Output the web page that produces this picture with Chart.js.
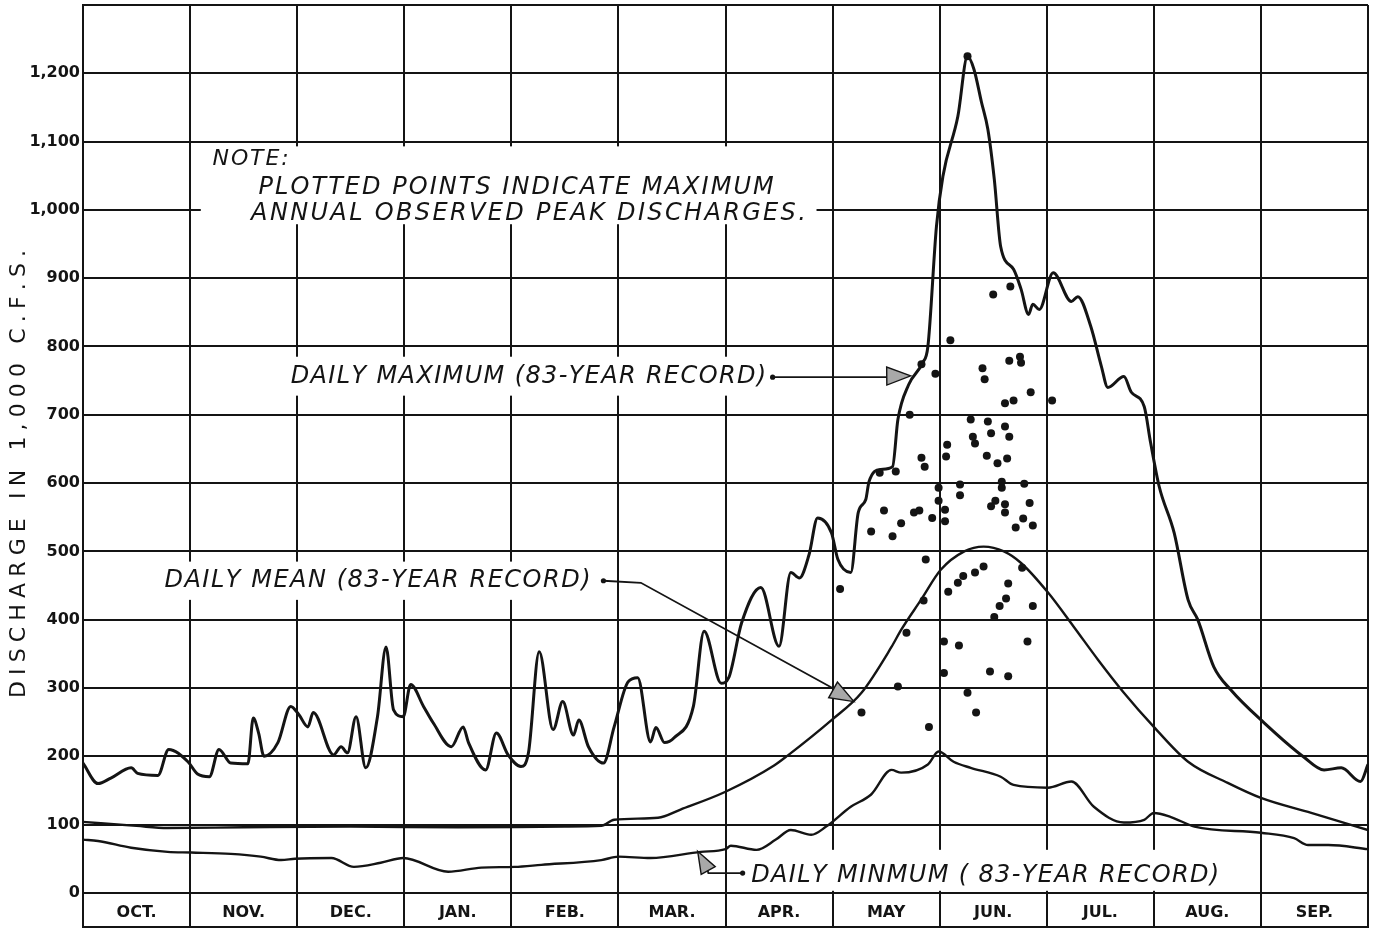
<!DOCTYPE html>
<html>
<head>
<meta charset="utf-8">
<title>Daily discharge hydrograph</title>
<script src="https://cdn.jsdelivr.net/npm/chart.js@4.4.0/dist/chart.umd.min.js"></script>
<style>
    html, body { margin: 0; padding: 0; background: #fff; }
    #wrap { width: 1378px; height: 934px; }
</style>
</head>
<body>
<div id="wrap"><canvas id="chart" width="1378" height="934"></canvas></div>
<script>
// x = months since 1 October (0..12), y = discharge in 1,000 c.f.s.
const monthLabels = ['OCT.', 'NOV.', 'DEC.', 'JAN.', 'FEB.', 'MAR.', 'APR.', 'MAY', 'JUN.', 'JUL.', 'AUG.', 'SEP.'];
const yTickValues = [-50, 0, 100, 200, 300, 400, 500, 600, 700, 800, 900, 1000, 1100, 1200, 1300];

const dailyMaximum = [
    [0, 190], [0.14, 160], [0.26, 168], [0.45, 183], [0.51, 175], [0.70, 172], [0.80, 210], [0.98, 192],
    [1.07, 174], [1.18, 170], [1.27, 210], [1.38, 190], [1.54, 189], [1.59, 256], [1.64, 234], [1.69, 200],
    [1.82, 220], [1.94, 273], [2.02, 260], [2.10, 243], [2.15, 264], [2.34, 202], [2.41, 214], [2.47, 205],
    [2.55, 258], [2.64, 183], [2.75, 258], [2.83, 360], [2.90, 268], [2.99, 258], [3.06, 305], [3.18, 273],
    [3.27, 249], [3.44, 214], [3.55, 243], [3.60, 220], [3.76, 180], [3.86, 234], [3.97, 202], [4.09, 185],
    [4.16, 205], [4.26, 353], [4.39, 239], [4.48, 280], [4.58, 231], [4.63, 253], [4.72, 214], [4.86, 190],
    [4.96, 243], [5.09, 309], [5.18, 315], [5.30, 221], [5.35, 242], [5.43, 220], [5.52, 227], [5.70, 273],
    [5.80, 383], [5.96, 307], [6.03, 315], [6.15, 395], [6.33, 447], [6.50, 361], [6.61, 469], [6.69, 461],
    [6.78, 495], [6.86, 549], [6.99, 527], [7.05, 488], [7.17, 469], [7.24, 557], [7.31, 576], [7.34, 602],
    [7.45, 620], [7.56, 624], [7.61, 693], [7.71, 744], [7.84, 776], [7.89, 800], [7.97, 976], [8.03, 1049],
    [8.17, 1137], [8.26, 1225], [8.32, 1206], [8.39, 1158], [8.45, 1118], [8.51, 1045], [8.57, 946], [8.69, 913],
    [8.76, 884], [8.83, 847], [8.87, 862], [8.93, 854], [9.06, 908], [9.23, 866], [9.29, 873], [9.41, 830],
    [9.51, 771], [9.57, 740], [9.72, 756], [9.79, 733], [9.91, 712], [9.97, 659], [10.05, 595], [10.19, 527],
    [10.32, 429], [10.41, 400], [10.56, 331], [10.72, 297], [11.03, 249], [11.40, 199], [11.59, 180], [11.75, 183],
    [11.93, 163], [12, 188]
];

const dailyMean = [
    [0, 104], [0.5, 98], [0.79, 95], [1.5, 96], [2.5, 97], [3.5, 96], [4.5, 97], [4.84, 98],
    [4.96, 107], [5.37, 110], [5.58, 122], [6.0, 148], [6.45, 186], [6.58, 201], [6.99, 253], [7.27, 293],
    [7.55, 360], [7.64, 385], [7.83, 430], [8.01, 473], [8.23, 500], [8.41, 507], [8.60, 500], [8.76, 483],
    [9.01, 440], [9.25, 390], [9.48, 341], [9.72, 293], [10.0, 243], [10.32, 192], [10.69, 161], [11.0, 139],
    [11.47, 117], [12, 92]
];

const dailyMinimum = [
    [0, 78], [0.14, 76], [0.45, 66], [0.79, 60], [1.01, 59], [1.38, 57], [1.66, 53], [1.85, 48],
    [1.98, 50], [2.32, 51], [2.53, 38], [2.78, 44], [2.99, 51], [3.41, 31], [3.72, 37], [4.03, 38],
    [4.28, 41], [4.84, 48], [5.0, 53], [5.30, 51], [5.77, 60], [6.0, 64], [6.05, 69], [6.29, 63],
    [6.47, 78], [6.61, 92], [6.80, 85], [6.94, 97], [7.17, 126], [7.36, 144], [7.55, 180], [7.64, 176],
    [7.89, 188], [7.99, 207], [8.13, 192], [8.29, 183], [8.57, 170], [8.69, 158], [9.01, 154], [9.23, 163],
    [9.44, 126], [9.72, 103], [9.91, 107], [10.0, 117], [10.16, 111], [10.38, 97], [11.0, 88], [11.31, 80],
    [11.44, 70], [11.63, 70], [12, 64]
];

// maximum annual observed peak discharges
const peakDischarges = [
    [7.83, 774], [7.96, 760], [7.72, 700], [8.07, 656], [8.06, 639], [7.83, 637], [7.86, 624], [7.59, 617],
    [7.44, 615], [7.48, 560], [7.36, 529], [7.56, 522], [7.64, 541], [7.76, 557], [7.81, 560], [7.93, 549],
    [7.99, 574], [8.05, 561], [8.05, 544], [7.99, 593], [8.19, 598], [8.19, 582], [8.40, 768], [8.42, 752],
    [8.65, 779], [8.75, 785], [8.76, 776], [8.61, 717], [8.69, 721], [8.85, 733], [9.05, 721], [8.29, 693],
    [8.45, 690], [8.61, 683], [8.31, 668], [8.33, 658], [8.48, 673], [8.65, 668], [8.44, 640], [8.54, 629],
    [8.63, 636], [8.58, 602], [8.58, 593], [8.79, 599], [8.52, 574], [8.48, 566], [8.61, 569], [8.61, 557],
    [8.84, 571], [8.78, 548], [8.87, 538], [8.71, 535], [7.87, 488], [7.07, 445], [8.41, 478], [8.33, 469],
    [8.22, 464], [8.17, 454], [8.08, 441], [7.85, 428], [8.64, 453], [8.77, 476], [8.62, 431], [8.56, 420],
    [8.51, 404], [8.87, 420], [7.69, 381], [7.61, 302], [7.27, 264], [8.04, 368], [8.18, 362], [8.04, 322],
    [8.47, 324], [8.64, 317], [8.82, 368], [8.26, 293], [8.34, 264], [7.90, 243], [8.10, 809], [8.50, 876],
    [8.66, 888], [8.26, 1225]
];

const INK = '#141414';
const FONT = "'DejaVu Sans', sans-serif";

function toXY(pairs) {
    return pairs.map(([x, y]) => ({ x, y }));
}

// draw text letter by letter so it fills the span x0..x1 like hand lettering
function spacedText(ctx, text, x0, x1, y) {
    const chars = Array.from(text);
    const widths = chars.map(c => ctx.measureText(c).width);
    const natural = widths.reduce((a, b) => a + b, 0);
    const gap = chars.length > 1 ? (x1 - x0 - natural) / (chars.length - 1) : 0;
    let x = x0;
    chars.forEach((c, i) => {
        ctx.fillText(c, x, y);
        x += widths[i] + gap;
    });
}

function arrowHead(ctx, tipX, tipY, fromX, fromY, len, half) {
    const a = Math.atan2(tipY - fromY, tipX - fromX);
    const bx = tipX - len * Math.cos(a), by = tipY - len * Math.sin(a);
    ctx.beginPath();
    ctx.moveTo(tipX, tipY);
    ctx.lineTo(bx + half * Math.sin(a), by - half * Math.cos(a));
    ctx.lineTo(bx - half * Math.sin(a), by + half * Math.cos(a));
    ctx.closePath();
    ctx.fillStyle = '#a8a8a8';
    ctx.fill();
    ctx.lineWidth = 1.4;
    ctx.strokeStyle = INK;
    ctx.stroke();
}

// lettering sits on white patches that break the grid
const labelBoxes = [
    [1.10, 6.85, 979, 1093],
    [1.88, 6.44, 728, 785],
    [0.70, 4.80, 429, 485],
    [6.18, 10.68, 3, 63]
];

const notesPlugin = {
    id: 'notes',
    beforeDatasetsDraw(chart) {
        const { ctx, scales: { x, y } } = chart;
        ctx.save();
        ctx.fillStyle = '#fff';
        labelBoxes.forEach(([m0, m1, v0, v1]) => {
            const left = x.getPixelForValue(m0), top = y.getPixelForValue(v1);
            ctx.fillRect(left, top, x.getPixelForValue(m1) - left, y.getPixelForValue(v0) - top);
        });
        ctx.restore();
    },
    afterDatasetsDraw(chart) {
        const { ctx, scales: { x, y } } = chart;
        const X = v => x.getPixelForValue(v);
        const Y = v => y.getPixelForValue(v);
        ctx.save();
        ctx.fillStyle = INK;
        ctx.textBaseline = 'middle';

        // month names in the band below zero
        ctx.font = `bold 16px ${FONT}`;
        ctx.textAlign = 'center';
        monthLabels.forEach((m, i) => ctx.fillText(m, X(i + 0.5), Y(-29)));

        // notes and curve labels
        ctx.textAlign = 'left';
        ctx.font = `italic 22px ${FONT}`;
        spacedText(ctx, 'NOTE:', X(1.21), X(1.92), Y(1074));
        ctx.font = `italic 24px ${FONT}`;
        spacedText(ctx, 'PLOTTED POINTS INDICATE MAXIMUM', X(1.64), X(6.45), Y(1033));
        spacedText(ctx, 'ANNUAL OBSERVED PEAK DISCHARGES.', X(1.57), X(6.75), Y(995));
        spacedText(ctx, 'DAILY MAXIMUM (83-YEAR RECORD)', X(1.94), X(6.38), Y(755));
        spacedText(ctx, 'DAILY MEAN (83-YEAR RECORD)', X(0.76), X(4.74), Y(457));
        spacedText(ctx, 'DAILY MINMUM ( 83-YEAR RECORD)', X(6.24), X(10.61), Y(25));

        // leader lines
        ctx.strokeStyle = INK;
        ctx.lineWidth = 1.8;
        ctx.beginPath();
        ctx.moveTo(X(6.44), Y(755));
        ctx.lineTo(X(7.52), Y(755));
        ctx.stroke();
        arrowHead(ctx, X(7.73), Y(757), X(6.44), Y(755), 24, 9);

        ctx.lineWidth = 1.8;
        ctx.beginPath();
        ctx.moveTo(X(4.86), Y(457));
        ctx.lineTo(X(5.21), Y(454));
        ctx.lineTo(X(7.02), Y(298));
        ctx.stroke();
        arrowHead(ctx, X(7.20), Y(280), X(5.21), Y(454), 24, 9);

        ctx.lineWidth = 1.8;
        ctx.beginPath();
        ctx.moveTo(X(5.82), Y(40));
        ctx.lineTo(X(5.84), Y(29));
        ctx.lineTo(X(6.16), Y(29));
        ctx.stroke();
        arrowHead(ctx, X(5.74), Y(61), X(5.82), Y(38), 22, 8);

        ctx.fillStyle = INK;
        [[6.44, 755], [4.86, 457], [6.16, 29]].forEach(([m, v]) => {
            ctx.beginPath();
            ctx.arc(X(m), Y(v), 2.6, 0, Math.PI * 2);
            ctx.fill();
        });

        // axis title, rotated and spread out
        ctx.font = `22px ${FONT}`;
        ctx.translate(19, 474);
        ctx.rotate(-Math.PI / 2);
        spacedText(ctx, 'DISCHARGE IN 1,000 C.F.S.', -224, 224, 0);
        ctx.restore();
    }
};

new Chart(document.getElementById('chart'), {
    type: 'line',
    data: {
        datasets: [{
            label: 'Daily maximum (83-year record)',
            data: toXY(dailyMaximum),
            borderColor: INK,
            borderWidth: 3,
            pointRadius: 0,
            cubicInterpolationMode: 'monotone',
            fill: false
        }, {
            label: 'Daily mean (83-year record)',
            data: toXY(dailyMean),
            borderColor: INK,
            borderWidth: 2.4,
            pointRadius: 0,
            cubicInterpolationMode: 'monotone',
            fill: false
        }, {
            label: 'Daily minimum (83-year record)',
            data: toXY(dailyMinimum),
            borderColor: INK,
            borderWidth: 2.4,
            pointRadius: 0,
            cubicInterpolationMode: 'monotone',
            fill: false
        }, {
            type: 'scatter',
            label: 'Maximum annual observed peak discharges',
            data: toXY(peakDischarges),
            pointRadius: 4,
            pointBackgroundColor: INK,
            pointBorderWidth: 0
        }]
    },
    options: {
        responsive: false,
        animation: false,
        layout: { padding: { top: 5, right: 10, bottom: 7, left: 0 } },
        plugins: {
            legend: { display: false },
            tooltip: { enabled: false }
        },
        scales: {
            x: {
                type: 'linear',
                min: 0,
                max: 12,
                ticks: { display: false, stepSize: 1 },
                grid: { color: INK, lineWidth: 2, drawTicks: false },
                border: { color: INK, width: 2 },
                afterFit(scale) {
                    scale.height = 0;
                    scale.paddingLeft = 0;
                    scale.paddingRight = 0;
                }
            },
            y: {
                type: 'linear',
                min: -50,
                max: 1300,
                afterBuildTicks(scale) {
                    scale.ticks = yTickValues.map(value => ({ value }));
                },
                ticks: {
                    color: INK,
                    padding: 3,
                    font: { family: FONT, size: 16, weight: 'bold' },
                    callback: v => (v < 0 || v > 1200) ? '' : v.toLocaleString('en-US')
                },
                grid: { color: INK, lineWidth: 2, drawTicks: false },
                border: { color: INK, width: 2 },
                afterFit(scale) {
                    scale.width = 83;
                    scale.paddingTop = 0;
                    scale.paddingBottom = 0;
                }
            }
        }
    },
    plugins: [notesPlugin]
});
</script>
</body>
</html>
